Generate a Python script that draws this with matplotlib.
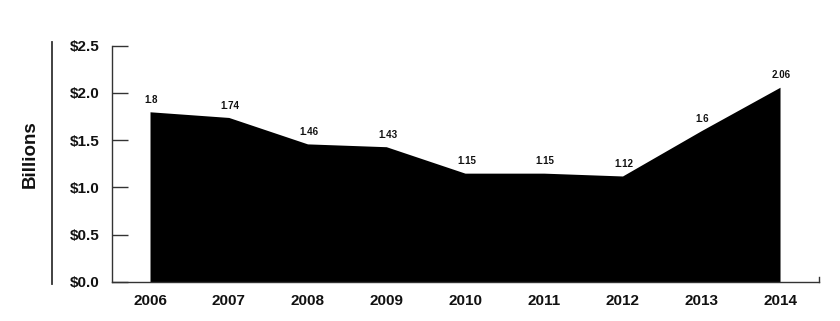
import matplotlib
matplotlib.use("Agg")
import matplotlib.pyplot as plt
from matplotlib.lines import Line2D

years = [2006, 2007, 2008, 2009, 2010, 2011, 2012, 2013, 2014]
values = [1.8, 1.74, 1.46, 1.43, 1.15, 1.15, 1.12, 1.6, 2.06]
labels = ["1.8", "1.74", "1.46", "1.43", "1.15", "1.15", "1.12", "1.6", "2.06"]
yticks = [0.0, 0.5, 1.0, 1.5, 2.0, 2.5]
ytick_labels = ["$0.0", "$0.5", "$1.0", "$1.5", "$2.0", "$2.5"]

plt.rcParams['font.family'] = ['Liberation Sans', 'DejaVu Sans']
plt.rcParams['font.weight'] = 'bold'

axis_col = '#333333'

fig = plt.figure(figsize=(8.4, 3.21), dpi=100)
ax = fig.add_axes([0.1333, 0.1224, 0.975 - 0.1333, 0.8576 - 0.1224])

ax.fill_between(years, values, 0, color='black', linewidth=0)

for x, v, t in zip(years, values, labels):
    ax.annotate(t, (x, v), xytext=(1, 5), textcoords='offset points',
                ha='center', va='bottom', fontsize=7, fontweight='bold', color='#111111')

ax.set_xlim(2006 - 0.483, 2014 + 0.495)
ax.set_ylim(0, 2.5)
ax.set_xticks(years)
ax.set_xticklabels([str(y) for y in years])
ax.set_yticks(yticks)
ax.set_yticklabels(ytick_labels)

ax.tick_params(axis='x', length=0, pad=9, labelsize=11, colors='#111111')
ax.tick_params(axis='y', direction='in', length=11.5, width=1, pad=9,
               labelsize=11, colors=axis_col, labelcolor='#111111')

ax.spines['top'].set_visible(False)
ax.spines['right'].set_bounds(0, 0.05)
for s in ['left', 'bottom', 'right']:
    ax.spines[s].set_color(axis_col)
    ax.spines[s].set_linewidth(1)

fig.text(30 / 840, 1 - 154 / 321, "Billions", rotation=90, ha='center', va='center',
         fontsize=13.5, fontweight='bold', color='#111111')
fig.add_artist(Line2D([52 / 840, 52 / 840], [1 - 42 / 321, 1 - 284 / 321],
                      color=axis_col, linewidth=1.3))

fig.savefig("out.png", dpi=100, facecolor='white')
